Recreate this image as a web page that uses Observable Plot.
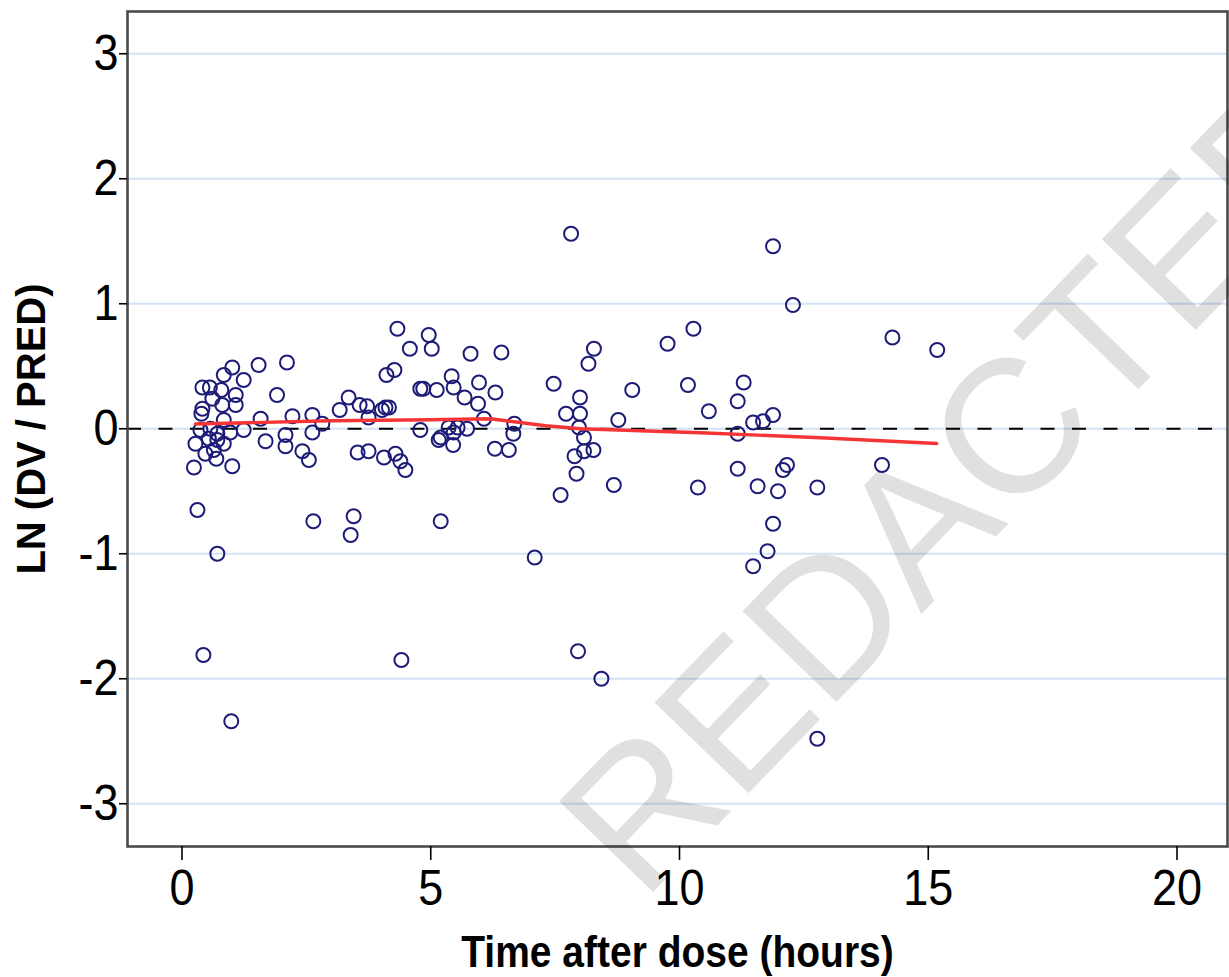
<!DOCTYPE html>
<html><head><meta charset="utf-8">
<script src="https://cdn.jsdelivr.net/npm/d3@7"></script>
<script src="https://cdn.jsdelivr.net/npm/@observablehq/plot@0.6"></script>
<style>html,body{margin:0;padding:0;background:#fff;} svg{display:block;}</style>
</head><body><div id="chart"></div>
<script>
const timeHours = [
  1.01,0.84,1.24,1.54,2.11,0.41,0.56,0.79,1.08,0.61,0.81,1.08,0.41,0.39,0.84,1.58,1.91,2.22,2.62,0.37,
  0.57,0.71,0.97,1.24,0.27,0.54,0.71,0.84,0.64,0.47,0.69,0.24,1.01,1.68,2.08,2.08,2.62,2.42,2.55,0.31,
  2.64,0.71,0.43,0.99,2.82,
  4.33,4.96,4.58,5.02,5.80,6.42,4.11,4.27,5.42,5.97,4.79,4.85,5.12,5.46,5.68,5.95,6.30,3.35,3.17,3.57,
  3.72,3.75,4.02,4.09,4.16,4.79,5.16,5.20,5.36,5.46,5.54,5.73,5.45,6.07,6.68,6.66,6.29,6.57,3.53,3.75,
  4.06,4.29,4.39,4.49,3.45,3.39,5.20,4.41,
  7.82,10.28,9.76,8.28,8.17,7.47,9.05,10.17,8.00,7.72,8.00,8.77,7.98,8.08,7.89,8.08,8.27,7.93,8.68,7.61,10.37,
  11.88,12.28,11.29,11.17,10.59,11.88,11.68,11.48,11.17,11.17,12.16,12.08,11.57,11.98,12.77,11.88,
  14.28,15.18,14.07,
  7.09,11.77,11.48,7.96,8.43,12.77
];
const lnRatio = [
  0.49,0.43,0.39,0.51,0.53,0.33,0.33,0.31,0.27,0.24,0.19,0.19,0.16,0.12,0.07,0.08,0.27,0.10,0.11,-0.01,
  0.00,-0.04,-0.03,-0.01,-0.12,-0.08,-0.09,-0.12,-0.17,-0.20,-0.24,-0.31,-0.30,-0.10,-0.05,-0.14,-0.03,-0.18,-0.25,-0.65,
  -0.74,-1.00,-1.81,-2.34,0.04,
  0.80,0.75,0.64,0.64,0.60,0.61,0.43,0.47,0.42,0.37,0.32,0.32,0.31,0.33,0.25,0.20,0.29,0.25,0.15,0.19,
  0.18,0.09,0.15,0.17,0.17,-0.01,-0.09,-0.07,0.01,-0.03,0.01,0.00,-0.13,0.08,0.04,-0.04,-0.16,-0.17,-0.19,-0.18,
  -0.23,-0.20,-0.26,-0.33,-0.70,-0.85,-0.74,-1.85,
  1.56,0.80,0.68,0.64,0.52,0.36,0.31,0.35,0.25,0.12,0.12,0.07,0.01,-0.07,-0.22,-0.18,-0.17,-0.36,-0.45,-0.53,-0.47,
  1.46,0.99,0.37,0.22,0.14,0.11,0.06,0.05,-0.04,-0.32,-0.29,-0.33,-0.46,-0.50,-0.47,-0.76,
  0.73,0.63,-0.29,
  -1.03,-0.98,-1.10,-1.78,-2.00,-2.48
];
const trendTime  = [0.27, 2.98, 5.0, 6.2, 7.31, 8.01, 10.42, 12.83, 15.17];
const trendValue = [0.038, 0.064, 0.072, 0.08, 0.024, 0.0, -0.032, -0.072, -0.118];
const xTicks = [0, 5, 10, 15, 20];
const yTicks = [-3, -2, -1, 0, 1, 2, 3];
const xLabel = "Time after dose (hours)";
const yLabel = "LN (DV / PRED)";
const watermark = [{time: 15.67, value: -0.45, text: "REDACTED"}];

const points = timeHours.map((t, i) => ({time: t, value: lnRatio[i]}));
const trend = trendTime.map((t, i) => ({time: t, value: trendValue[i]}));

const hasAxisMarks = typeof Plot.axisX === "function";
const axisMarks = hasAxisMarks ? [
  Plot.axisX({ticks: xTicks, tickSize: 14, tickPadding: 11, tickFormat: d => String(d), label: null, strokeWidth: 1.6, fontSize: 45}),
  Plot.axisY({ticks: yTicks, tickSize: 8, tickPadding: 1, tickFormat: d => String(d), label: null, strokeWidth: 1.6, fontSize: 45})
] : [];

const chart = Plot.plot({
  width: 1229, height: 977,
  marginLeft: 127, marginRight: 2, marginTop: 11, marginBottom: 131,
  style: {fontFamily: "'Liberation Sans', Arial, sans-serif", fontSize: "45px", background: "#fff", color: "#000", overflow: "hidden"},
  x: {domain: [-1.0955, 21.015], ticks: xTicks, tickSize: 14, tickPadding: 11, tickFormat: d => String(d), label: null},
  y: {domain: [-3.342, 3.338], ticks: yTicks, tickSize: 8, tickPadding: 1, tickFormat: d => String(d), label: null},
  marks: [
    Plot.ruleY(yTicks, {stroke: "#d3e3f5", strokeWidth: 2}),
    Plot.ruleY([0], {stroke: "#000", strokeWidth: 2, strokeDasharray: "14,17.5"}),
    Plot.dot(points, {x: "time", y: "value", r: 7, stroke: "#1c1c78", strokeWidth: 2, fill: "none"}),
    Plot.line(trend, {x: "time", y: "value", stroke: "#f53535", strokeWidth: 3.4}),
    Plot.frame({stroke: "#4a4a4a", strokeWidth: 2.6}),
    ...axisMarks,
    Plot.text([xLabel], {text: d => d, frameAnchor: "bottom", dy: 106, lineAnchor: "middle", textAnchor: "middle", fontSize: 39, fontWeight: "bold", fill: "#000"}),
    Plot.text([yLabel], {text: d => d, frameAnchor: "left", dx: -95, rotate: -90, lineAnchor: "middle", textAnchor: "middle", fontSize: 40, fontWeight: "bold", fill: "#000"}),
    Plot.text(watermark, {x: "time", y: "value", text: "text", rotate: -46, fontSize: 190, fill: "#000", fillOpacity: 0.12, lineAnchor: "middle", textAnchor: "middle", fontFamily: "'Liberation Sans', Arial, sans-serif"})
  ]
});

document.getElementById("chart").append(chart);
const svg = chart.tagName.toLowerCase() === "svg" ? chart : chart.querySelector("svg");
svg.querySelectorAll("text").forEach(el => {
  const s = el.textContent;
  if (s === "REDACTED") return;
  const bb = el.getBBox();
  const cx = bb.x + bb.width / 2, cy = bb.y + bb.height / 2;
  const tr = el.getAttribute("transform") || "";
  const rotated = tr.includes("rotate");
  const k = s === yLabel ? 1.0 : s === xLabel ? 1.12 : 1.1;
  const sc = rotated ? `scale(${k},1)` : `scale(1,${k})`;
  el.setAttribute("transform", `${tr} translate(${cx},${cy}) ${sc} translate(${-cx},${-cy})`);
});
</script>
</body></html>
